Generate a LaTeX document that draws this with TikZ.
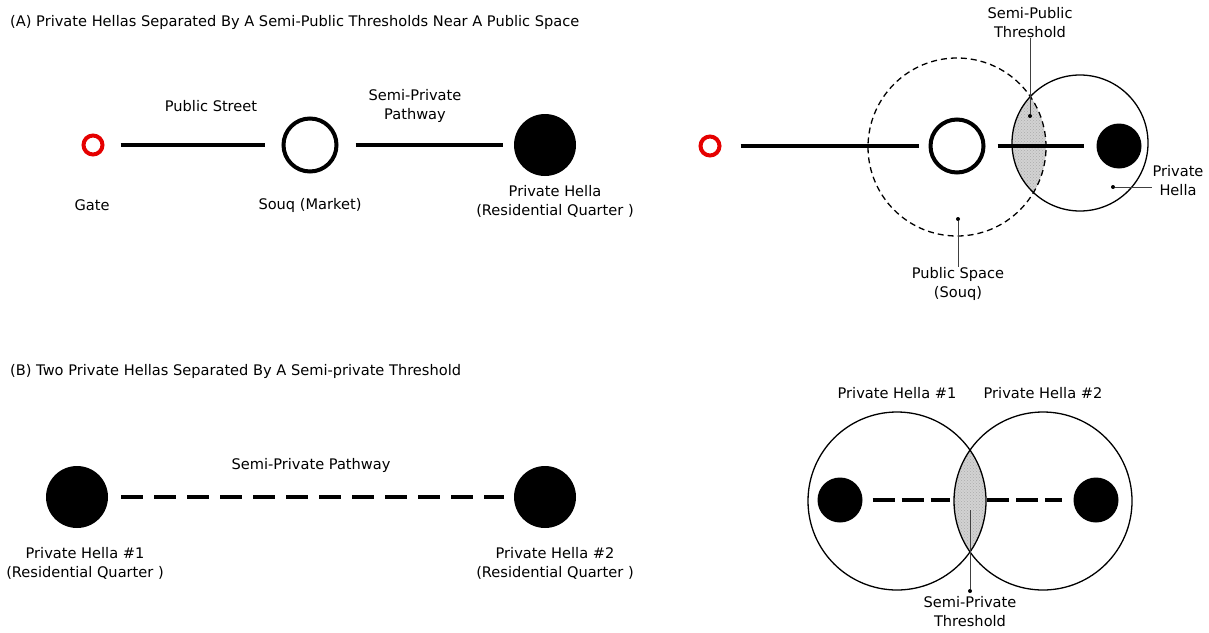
\documentclass[tikz,border=0pt]{standalone}
\usepackage{fontspec}
\setmainfont{DejaVu Sans}
\usetikzlibrary{positioning,calc,patterns}

\tikzset{
  gatering/.style={circle,draw=red!90!black,line width=4pt,minimum size=19pt,inner sep=0pt},
  souqring/.style={circle,draw=black,line width=4pt,minimum size=53pt,inner sep=0pt},
  hella/.style={circle,fill=black,minimum size=62pt,inner sep=0pt},
  hellasmall/.style={circle,fill=black,minimum size=45pt,inner sep=0pt},
  zone/.style={circle,draw=black,line width=1.3pt,inner sep=0pt},
  street/.style={line width=3.2pt},
  pathdash/.style={line width=3.4pt,dash pattern=on 22pt off 11pt},
  pathdashshort/.style={line width=3.4pt,dash pattern=on 22pt off 7pt},
  lbl/.style={font=\fontsize{14.6}{19}\selectfont,align=center,inner sep=0pt},
  ttl/.style={font=\fontsize{14.6}{17}\selectfont,anchor=west,inner sep=0pt},
  leader/.style={line width=0.7pt,black!75},
  tipdot/.style={circle,fill=black,minimum size=4pt,inner sep=0pt},
  lensfill/.style={fill=gray!35},
  lenstex/.style={pattern=crosshatch dots,pattern color=gray!65}
}

\begin{document}
\begin{tikzpicture}[x=1pt,y=-1pt]
\useasboundingbox (0,0) rectangle (1209,632);

%% (A) left: gate -- souq -- hella
\node[ttl] (titleA) at (10,22) {(A) Private Hellas Separated By A Semi-Public Thresholds Near A Public Space};
\node[gatering] (gate) at (93,145) {};
\node[souqring] (souq) at (310,145) {};
\node[hella] (hellaA) at (545,145) {};
\draw[street,shorten <=16pt,shorten >=17pt] (gate) -- (souq);
\draw[street,shorten <=17pt,shorten >=11pt] (souq) -- (hellaA);
\node[lbl] (streetlbl) at (211,106) {Public Street};
\node[lbl] (pathlblA) at (415,106) {Semi-Private\\Pathway};
\node[lbl] (gatelbl) at (92,205) {Gate};
\node[lbl] (souqlbl) at (310,205) {Souq (Market)};
\node[lbl] (hellalblA) at (555,201) {Private Hella\\(Residential Quarter )};

%% (A) right: zones
\begin{scope}
  \clip (957,147) circle [radius=89pt];
  \fill[lensfill] (1080,143) circle [radius=68pt];
  \fill[lenstex] (1080,143) circle [radius=68pt];
\end{scope}
\node[zone,dashed,dash pattern=on 6pt off 4pt,minimum size=178pt] (souqzone) at (957,147) {};
\node[zone,minimum size=136pt] (hellazone) at (1080,143) {};
\node[gatering] (gateR) at (710,146) {};
\node[souqring] (souqR) at (957,146) {};
\node[hellasmall] (hellaR) at (1119,146) {};
\draw[street,shorten <=19pt,shorten >=10pt] (gateR) -- (souqR);
\draw[street,shorten <=12pt,shorten >=12pt] (souqR) -- (hellaR);
%\draw[red] (1030,116) circle (2pt);
\node[tipdot] (tipthrA) at (1030,116) {};
\node[lbl] (thrlblA) at (1030,23) {Semi-Public\\Threshold};
\draw[leader] (tipthrA) -- (thrlblA.south);
\node[tipdot] (tiphella) at (1113,187) {};
\node[lbl] (hellalblR) at (1178,181) {Private\\Hella};
\draw[leader] (tiphella) -- (hellalblR.west |- tiphella);
\node[tipdot] (tipsouq) at (958,219) {};
\node[lbl] (souqzonelbl) at (958,284) {Public Space\\(Souq)};
\draw[leader] (tipsouq) -- (souqzonelbl.north);

%% (B) left: two hellas
\node[ttl] (titleB) at (10,371) {(B) Two Private Hellas Separated By A Semi-private Threshold};
\node[hella] (hellaB1) at (77,497) {};
\node[hella] (hellaB2) at (545,497) {};
\draw[pathdash,shorten <=13pt,shorten >=10pt] (hellaB1) -- (hellaB2);
\node[lbl] (pathlblB) at (311,465) {Semi-Private Pathway};
\node[lbl] (hellalblB1) at (85,563) {Private Hella \#1\\(Residential Quarter )};
\node[lbl] (hellalblB2) at (555,563) {Private Hella \#2\\(Residential Quarter )};

%% (B) right: overlapping hellas
\begin{scope}
  \clip (897,501) circle [radius=89pt];
  \fill[lensfill] (1043,501) circle [radius=89pt];
  \fill[lenstex] (1043,501) circle [radius=89pt];
\end{scope}
\node[zone,minimum size=178pt] (zoneB1) at (897,501) {};
\node[zone,minimum size=178pt] (zoneB2) at (1043,501) {};
\node[hellasmall] (dotB1) at (840,500) {};
\node[hellasmall] (dotB2) at (1096,500) {};
\coordinate (lensW) at (950,500);
\coordinate (lensE) at (987,500);
\draw[pathdashshort,shorten <=10pt] (dotB1) -- (lensW);
\draw[pathdashshort,shorten >=11pt] (lensE) -- (dotB2);
\node[lbl] (hellalblB1R) at (897,393) {Private Hella \#1};
\node[lbl] (hellalblB2R) at (1043,393) {Private Hella \#2};
\node[tipdot] (tipthrB) at (970,591) {};
\coordinate (thrtopB) at (970,510);
\draw[leader] (thrtopB) -- (tipthrB);
\node[lbl] (thrlblB) at (970,612) {Semi-Private\\Threshold};
\end{tikzpicture}
\end{document}
